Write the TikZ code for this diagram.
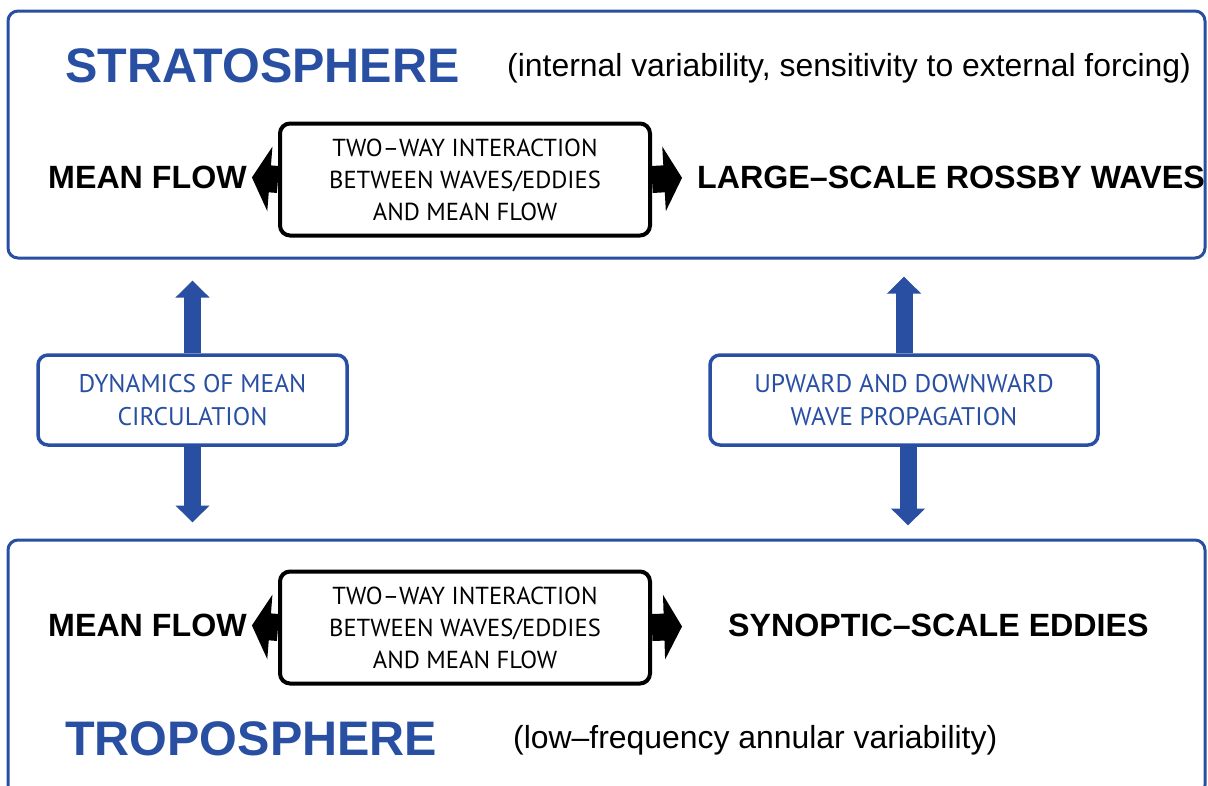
\documentclass[tikz,border=0pt]{standalone}
\usepackage{fontspec}
\setmainfont{Liberation Sans}
\newfontfamily\boxfont{PT Sans}
\usetikzlibrary{arrows.meta}
\definecolor{atmblue}{RGB}{41,79,163}
\begin{document}
\begin{tikzpicture}[x=1pt,y=-1pt,
  layer/.style={draw=atmblue, line width=3pt, rounded corners=10pt, inner sep=0pt},
  twoway/.style={draw=black, line width=4pt, rounded corners=10pt, minimum width=370pt, minimum height=112pt, align=center, inner sep=0pt, font=\boxfont\fontsize{24.6}{32}\selectfont},
  linkbox/.style={draw=atmblue, text=atmblue, line width=3.5pt, rounded corners=10pt, minimum height=90pt, align=center, inner sep=0pt, font=\boxfont\fontsize{25.5}{33}\selectfont},
  layertitle/.style={text=atmblue, font=\bfseries\fontsize{48.5}{48}\selectfont, anchor=west, inner sep=0pt},
  note/.style={font=\fontsize{31.9}{32}\selectfont, anchor=west, inner sep=0pt},
  flowlabel/.style={font=\bfseries\fontsize{32.2}{32}\selectfont, anchor=west, inner sep=0pt},
  blkarrow/.style={line width=27pt, -{Triangle[width=64pt,length=18pt]}},
  bluearrow/.style={draw=atmblue, line width=17pt, -{Triangle[width=33pt,length=17pt]}}
]
\useasboundingbox (0,0) rectangle (1208,785);

% layers
\node[layer, minimum width=1197pt, minimum height=247pt] (strat) at (606.5,134.5) {};
\node[layer, minimum width=1197pt, minimum height=255pt] (trop) at (606.5,667.5) {};

% titles and notes
\node[layertitle] (strattitle) at (65,66) {STRATOSPHERE};
\node[note] (stratnote) at (507,68) {(internal variability, sensitivity to external forcing)};
\node[layertitle] (troptitle) at (65,739) {TROPOSPHERE};
\node[note] (tropnote) at (513,740) {(low–frequency annular variability)};

% stratosphere interaction
\node[twoway] (tw1) at (465,179.5) {TWO–WAY INTERACTION\\BETWEEN WAVES/EDDIES\\AND MEAN FLOW};
\node[flowlabel] (mf1) at (48,177) {MEAN FLOW};
\node[flowlabel] (lsrw) at (697,177) {LARGE–SCALE ROSSBY WAVES};
\draw[blkarrow, shorten >=5pt] (tw1.west) -- (mf1.east);
\draw[blkarrow, shorten >=15pt] (tw1.east) -- (lsrw.west);

% troposphere interaction
\node[twoway] (tw2) at (465,627.5) {TWO–WAY INTERACTION\\BETWEEN WAVES/EDDIES\\AND MEAN FLOW};
\node[flowlabel] (mf2) at (48,625) {MEAN FLOW};
\node[flowlabel] (sse) at (728,625) {SYNOPTIC–SCALE EDDIES};
\draw[blkarrow, shorten >=5pt] (tw2.west) -- (mf2.east);
\draw[blkarrow, shorten >=46pt] (tw2.east) -- (sse.west);

% coupling boxes
\node[linkbox, minimum width=309pt] (dyn) at (192.5,400) {DYNAMICS OF MEAN\\CIRCULATION};
\node[linkbox, minimum width=388pt] (upw) at (904,400) {UPWARD AND DOWNWARD\\WAVE PROPAGATION};

\draw[bluearrow, shorten >=21pt] (dyn.north) -- (dyn.north |- strat.south);
\draw[bluearrow, shorten >=16pt] (dyn.south) -- (dyn.south |- trop.north);
\draw[bluearrow, shorten >=17pt] (upw.north) -- (upw.north |- strat.south);
\coordinate (upwdown) at ([xshift=4pt]upw.south);
\draw[bluearrow, shorten >=13pt] (upwdown) -- (upwdown |- trop.north);
\end{tikzpicture}
\end{document}
